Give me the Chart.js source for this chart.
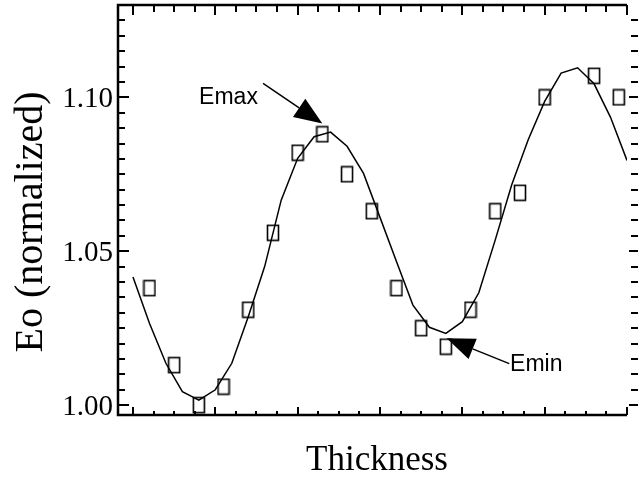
<!DOCTYPE html>
<html lang="en">
<head>
<meta charset="UTF-8">
<title>Eo vs Thickness</title>
<script src="https://cdn.jsdelivr.net/npm/chart.js"></script>
<style>
    html, body { margin: 0; padding: 0; background: #fff; }
</style>
</head>
<body>
<canvas id="chart" width="638" height="477"></canvas>
<script>
    // measured points (squares)
    const measX = [2, 5, 8, 11, 14, 17, 20, 23, 26, 29, 32, 35, 38, 41, 44, 47, 50, 56, 59];
    const measY = [1.038, 1.013, 1.000, 1.006, 1.031, 1.056, 1.082, 1.088, 1.075, 1.063,
                   1.038, 1.025, 1.019, 1.031, 1.063, 1.069, 1.100, 1.107, 1.100];

    // fitted curve
    const fitX = [0, 2, 4, 6, 8, 10, 12, 14, 16, 18, 20, 22, 24, 26, 28, 30,
                  32, 34, 36, 38, 40, 42, 44, 46, 48, 50, 52, 54, 56, 58, 60];
    const fitY = [1.0416, 1.0266, 1.0136, 1.0044, 1.0016, 1.0050, 1.0136, 1.0287, 1.0451, 1.0666,
                  1.0802, 1.0872, 1.0887, 1.0841, 1.0753, 1.0610, 1.0467, 1.0325, 1.0253, 1.0233,
                  1.0271, 1.0365, 1.0537, 1.0716, 1.0862, 1.0987, 1.1079, 1.1096, 1.1044, 1.0935, 1.0795];

    // axis ticks / labels
    const yTickLabels = ['1.00', '1.05', '1.10'];
    const yMajor = [1.00, 1.05, 1.10];
    const xMajor = [0, 10, 20, 30, 40, 50, 60];

    // annotations: [label, textX, textY, tailX, tailY, tipX, tipY]
    const notes = [
        ['Emax', 11.6, 1.1000, 15.8, 1.1045, 23.0, 1.0915],
        ['Emin', 45.8, 1.0130, 45.7, 1.0135, 38.1, 1.0217]
    ];

    const serif = '"Liberation Serif", "Times New Roman", serif';
    const sans = '"Liberation Sans", Arial, sans-serif';

    // hollow rectangle marker
    const box = document.createElement('canvas');
    box.width = 14; box.height = 18;
    const bctx = box.getContext('2d');
    bctx.strokeStyle = '#000';
    bctx.lineWidth = 1.6;
    bctx.strokeRect(1.5, 1.5, 11, 15);

    const framePlugin = {
        id: 'frame',
        afterDraw(chart) {
            const ctx = chart.ctx;
            const a = chart.chartArea;
            const xs = chart.scales.x, ys = chart.scales.y;
            ctx.save();
            ctx.strokeStyle = '#000';
            ctx.fillStyle = '#000';

            // frame (no right line)
            ctx.lineWidth = 2.5;
            ctx.beginPath();
            ctx.moveTo(a.right, a.top);
            ctx.lineTo(a.left, a.top);
            ctx.lineTo(a.left, a.bottom);
            ctx.lineTo(a.right, a.bottom);
            ctx.stroke();

            // y ticks
            ctx.lineWidth = 2;
            for (let v = 1.0; v <= 1.1251; v += 0.005) {
                const y = Math.round(ys.getPixelForValue(v));
                const major = yMajor.some(m => Math.abs(m - v) < 1e-6);
                const len = major ? 11 : 7;
                ctx.beginPath();
                ctx.moveTo(a.left, y); ctx.lineTo(a.left + len, y);
                ctx.moveTo(a.right + (major ? 2 : 4), y); ctx.lineTo(a.right + 12, y);
                ctx.stroke();
            }

            // x ticks
            for (let v = 0; v <= 60.01; v += 2.5) {
                const x = Math.round(xs.getPixelForValue(v));
                const major = xMajor.includes(v);
                ctx.beginPath();
                ctx.moveTo(x, a.top); ctx.lineTo(x, a.top + (major ? 10 : 7));
                ctx.moveTo(x, a.bottom); ctx.lineTo(x, a.bottom - (major ? 8 : 4));
                ctx.stroke();
            }

            // y tick labels
            ctx.font = '29px ' + serif;
            ctx.textAlign = 'right';
            ctx.textBaseline = 'middle';
            yMajor.forEach((v, i) => {
                ctx.fillText(yTickLabels[i], a.left - 5, ys.getPixelForValue(v) + 2);
            });

            // axis titles
            ctx.textAlign = 'center';
            ctx.textBaseline = 'alphabetic';
            ctx.font = '35px ' + serif;
            ctx.fillText('Thickness', 377, 470);
            ctx.font = '40px ' + serif;
            ctx.save();
            ctx.translate(42, 222);
            ctx.rotate(-Math.PI / 2);
            ctx.fillText('Eo (normalized)', 0, 0);
            ctx.restore();

            // annotations with arrows
            ctx.font = '23px ' + sans;
            ctx.textBaseline = 'middle';
            notes.forEach(n => {
                const tx = xs.getPixelForValue(n[1]), ty = ys.getPixelForValue(n[2]);
                const x0 = xs.getPixelForValue(n[3]), y0 = ys.getPixelForValue(n[4]);
                const x1 = xs.getPixelForValue(n[5]), y1 = ys.getPixelForValue(n[6]);
                ctx.textAlign = n[0] === 'Emax' ? 'center' : 'left';
                ctx.fillText(n[0], tx, ty);
                const ang = Math.atan2(y1 - y0, x1 - x0);
                const L = 28, W = 11;
                const bx = x1 - L * Math.cos(ang), by = y1 - L * Math.sin(ang);
                ctx.lineWidth = 1.5;
                ctx.beginPath();
                ctx.moveTo(x0, y0); ctx.lineTo(bx, by);
                ctx.stroke();
                ctx.beginPath();
                ctx.moveTo(x1, y1);
                ctx.lineTo(bx + W * Math.sin(ang), by - W * Math.cos(ang));
                ctx.lineTo(bx - W * Math.sin(ang), by + W * Math.cos(ang));
                ctx.closePath();
                ctx.fill();
            });
            ctx.restore();
        }
    };

    new Chart(document.getElementById('chart'), {
        type: 'scatter',
        data: {
            datasets: [
                {
                    label: 'fit',
                    data: fitX.map((x, i) => ({ x: x, y: fitY[i] })),
                    showLine: true,
                    borderColor: '#000',
                    borderWidth: 1.5,
                    pointRadius: 0,
                    tension: 0
                },
                {
                    label: 'measured',
                    data: measX.map((x, i) => ({ x: x, y: measY[i] })),
                    showLine: false,
                    pointStyle: box,
                    borderColor: '#000'
                }
            ]
        },
        options: {
            responsive: false,
            animation: false,
            layout: { padding: { left: 118, right: 11, top: 5, bottom: 62 } },
            plugins: { legend: { display: false }, tooltip: { enabled: false } },
            scales: {
                x: { type: 'linear', min: -1.82, max: 60, display: false },
                y: { type: 'linear', min: 0.9968, max: 1.13, display: false }
            }
        },
        plugins: [framePlugin]
    });
</script>
</body>
</html>
